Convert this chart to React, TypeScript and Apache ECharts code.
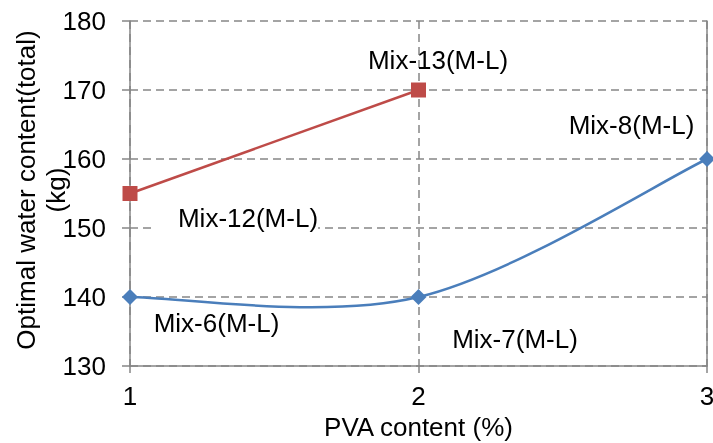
import React, { useEffect, useRef } from "react";
import * as echarts from "echarts";

const pvaContent = [1, 2, 3];
const blueValues = [140, 140, 160];
const blueLabels = ["Mix-6(M-L)", "Mix-7(M-L)", "Mix-8(M-L)"];
const redValues = [155, 170];
const redLabels = ["Mix-12(M-L)", "Mix-13(M-L)"];
const blueOffsets = [[86.5, 26], [96.5, 41.5], [-75.5, -34]];
const redOffsets = [[105.5, 24.5], [19.5, -30]];

const FONT = "'Liberation Sans', Arial, sans-serif";
const BLUE = "#4A7EBB";
const RED = "#BE4B48";
const FS = 26;

export default function App() {
  const ref = useRef<HTMLDivElement>(null);
  useEffect(() => {
    const chart = echarts.init(ref.current!, null, { renderer: "svg" });
    const labelStyle = (text: string, off: number[], boxed = false) => ({
      show: true,
      position: "inside",
      offset: off,
      formatter: text,
      color: "#000",
      fontSize: FS,
      fontFamily: FONT,
      align: "center",
      verticalAlign: "middle",
      ...(boxed ? { backgroundColor: "#fff", padding: [2, 0, 2, 25] } : {}),
    });
    chart.setOption({
      animation: false,
      textStyle: { fontFamily: FONT },
      grid: { left: 130, right: 6, top: 21, bottom: 77, outerBoundsMode: "none", containLabel: false },
      xAxis: {
        type: "value",
        min: 1,
        max: 3,
        interval: 1,
        name: "PVA content (%)",
        nameLocation: "middle",
        nameGap: 45,
        nameTextStyle: { color: "#000", fontSize: FS, fontFamily: FONT },
        axisLine: { show: true, lineStyle: { color: "#868686", width: 1.5 } },
        axisTick: { show: true, length: 7, lineStyle: { color: "#868686", width: 1.5 } },
        axisLabel: { color: "#000", fontSize: FS, fontFamily: FONT, margin: 17 },
        splitLine: { show: true, lineStyle: { color: "#868686", width: 1.5, type: [8, 5] } },
      },
      yAxis: [
        {
          type: "value",
          min: 130,
          max: 180,
          interval: 10,
          axisLine: { show: true, lineStyle: { color: "#868686", width: 1.5 } },
          axisTick: { show: true, length: 8, lineStyle: { color: "#868686", width: 1.5 } },
          axisLabel: { color: "#000", fontSize: FS, fontFamily: FONT, margin: 24 },
          splitLine: { show: true, lineStyle: { color: "#868686", width: 1.5, type: [8, 5] } },
        },
        {
          type: "value",
          min: 130,
          max: 180,
          interval: 10,
          position: "right",
          axisLine: { show: true, lineStyle: { color: "#868686", width: 1.5 } },
          axisTick: { show: false },
          axisLabel: { show: false },
          splitLine: { show: false },
        },
      ],
      graphic: [
        {
          type: "text",
          x: 41,
          y: 190,
          rotation: Math.PI / 2,
          style: {
            text: "Optimal water content(total)\n(kg)",
            fill: "#000",
            font: `${FS}px ${FONT}`,
            textAlign: "center",
            textVerticalAlign: "middle",
            lineHeight: 30,
          },
        },
      ],
      series: [
        {
          type: "custom",
          silent: true,
          data: [0],
          z: 2,
          renderItem: (params: any, api: any) => {
            const pts = pvaContent.map((x, i) => api.coord([x, blueValues[i]]));
            const n = pts.length;
            const get = (i: number) => pts[Math.max(0, Math.min(n - 1, i))];
            let d = `M${pts[0][0]},${pts[0][1]}`;
            for (let i = 0; i < n - 1; i++) {
              const p0 = get(i - 1), p1 = get(i), p2 = get(i + 1), p3 = get(i + 2);
              const c1x = p1[0] + (p2[0] - p0[0]) / 6;
              const c1y = p1[1] + (p2[1] - p0[1]) / 6;
              const c2x = p2[0] - (p3[0] - p1[0]) / 6;
              const c2y = p2[1] - (p3[1] - p1[1]) / 6;
              d += ` C${c1x},${c1y} ${c2x},${c2y} ${p2[0]},${p2[1]}`;
            }
            return {
              type: "path",
              shape: { pathData: d },
              style: { fill: "none", stroke: BLUE, lineWidth: 2.5 },
            };
          },
        },
        {
          type: "line",
          z: 3,
          data: pvaContent.map((x, i) => ({
            value: [x, blueValues[i]],
            label: labelStyle(blueLabels[i], blueOffsets[i]),
          })),
          symbol: "diamond",
          symbolSize: 16,
          itemStyle: { color: BLUE },
          lineStyle: { width: 0, opacity: 0 },
        },
        {
          type: "line",
          z: 3,
          data: redValues.map((v, i) => ({
            value: [pvaContent[i], v],
            label: labelStyle(redLabels[i], redOffsets[i], i === 0),
          })),
          symbol: "rect",
          symbolSize: 15,
          itemStyle: { color: RED },
          lineStyle: { color: RED, width: 2.5 },
        },
      ],
    });
    return () => chart.dispose();
  }, []);
  return (
    <div
      ref={ref}
      style={{ position: "fixed", left: 0, top: 0, width: 713, height: 443 }}
    />
  );
}
